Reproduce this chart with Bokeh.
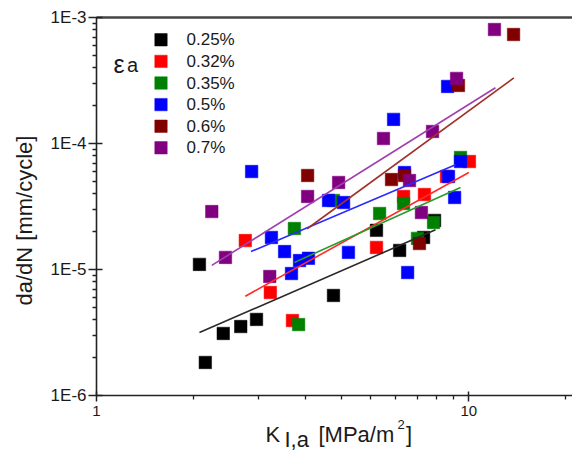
import math
from bokeh.plotting import figure
from bokeh.models import (Range1d, LogAxis, Label, BoxAnnotation,
                          CustomJSTickFormatter, FixedTicker)
from bokeh.embed import file_html
from bokeh.resources import INLINE

# ---------------- data ----------------
series_labels = ["0.25%", "0.32%", "0.35%", "0.5%", "0.6%", "0.7%"]
marker_colors = ["#000000", "#ff0000", "#008000", "#0000ff", "#800000", "#800080"]
line_colors = ["#2a2a2a", "#ff2a2a", "#2a9a2a", "#2a2aff", "#a0302a", "#a040b0"]

k_025 = [1.89, 1.96, 2.19, 2.44, 2.69, 4.33, 5.65, 6.52, 7.56, 8.09]
r_025 = [1.10e-5, 1.83e-6, 3.11e-6, 3.53e-6, 4.02e-6, 6.23e-6, 2.05e-5, 1.42e-5, 1.80e-5, 2.46e-5]

k_032 = [2.51, 2.93, 3.36, 5.65, 6.68, 7.60, 8.71, 10.04]
r_032 = [1.70e-5, 6.58e-6, 3.94e-6, 1.50e-5, 3.81e-5, 3.95e-5, 5.49e-5, 7.22e-5]

k_035 = [3.40, 3.49, 4.33, 5.76, 6.68, 7.28, 8.04, 9.50]
r_035 = [2.12e-5, 3.66e-6, 3.54e-5, 2.79e-5, 3.35e-5, 1.77e-5, 2.37e-5, 7.77e-5]

k_05 = [2.61, 2.95, 3.20, 3.51, 3.71, 3.34, 4.20, 4.61, 4.75, 6.85, 6.72, 8.82, 9.16, 6.28, 8.77, 9.50]
r_05 = [6.01e-5, 1.80e-5, 1.39e-5, 1.18e-5, 1.23e-5, 9.31e-6, 3.54e-5, 3.41e-5, 1.37e-5,
        9.48e-6, 5.90e-5, 5.49e-5, 3.74e-5, 1.56e-4, 2.85e-4, 7.22e-5]

k_06 = [3.69, 6.20, 6.72, 7.37, 9.38, 13.19]
r_06 = [5.59e-5, 5.19e-5, 5.59e-5, 1.61e-5, 2.90e-4, 7.37e-4]

k_07 = [2.04, 2.22, 2.92, 3.69, 4.47, 5.90, 6.93, 7.46, 7.99, 9.27, 11.72]
r_07 = [2.89e-5, 1.25e-5, 8.82e-6, 3.81e-5, 4.92e-5, 1.10e-4, 5.10e-5, 2.84e-5, 1.25e-4, 3.30e-4, 8.07e-4]

# fitted power-law lines: start / end points
fit_k_start = [1.89, 2.51, 3.40, 2.60, 3.68, 2.04]
fit_k_end = [8.14, 10.0, 9.50, 9.21, 13.21, 11.79]
fit_r_start = [3.16e-6, 6.15e-6, 1.14e-5, 1.39e-5, 2.11e-5, 1.08e-5]
fit_r_end = [2.07e-5, 5.90e-5, 4.49e-5, 6.80e-5, 3.33e-4, 2.78e-4]

x_major = [1, 10]
x_minor = [1.818, 2.727, 3.636, 4.545, 5.455, 6.364, 7.273, 8.182, 9.091, 18.18]
y_major = [1e-6, 1e-5, 1e-4, 1e-3]
y_minor = [m * 10.0 ** e for e in (-6, -5, -4) for m in range(2, 10)]

ks = [k_025, k_032, k_035, k_05, k_06, k_07]
rs = [r_025, r_032, r_035, r_05, r_06, r_07]

# axis extents (data) and the full canvas extents (so titles sit inside the frame)
X_AX = (1, 18.99)
Y_AX = (1e-6, 1e-3)
X_VIEW = (0.5522, 18.99)
Y_VIEW = (3.526e-7, 1.372e-3)

FONT = "Liberation Sans"
TXT = "#1a1a1a"
AXC = "#222222"

W, H = 572, 452

# ---------------- figure ----------------
p = figure(width=W, height=H, x_axis_type="log", y_axis_type="log",
           x_range=Range1d(*X_VIEW), y_range=Range1d(*Y_VIEW),
           output_backend="svg", toolbar_location=None,
           min_border_left=0, min_border_right=0, min_border_top=0, min_border_bottom=0)
p.outline_line_color = None
p.grid.visible = False
p.background_fill_color = "white"
p.border_fill_color = "white"

xa = p.xaxis[0]
xa.fixed_location = Y_AX[0]
xa.bounds = X_AX
xa.ticker = FixedTicker(ticks=x_major, minor_ticks=x_minor)
xa.formatter = CustomJSTickFormatter(code="return Math.round(tick).toString();")
xa.major_label_text_font = FONT
xa.major_label_text_font_size = "15px"
xa.major_label_text_color = TXT
xa.major_label_standoff = 4
xa.major_tick_in = 4
xa.major_tick_out = 6
xa.minor_tick_in = 0
xa.minor_tick_out = 4
xa.axis_line_width = 1.6
xa.axis_line_color = AXC
xa.major_tick_line_color = AXC
xa.minor_tick_line_color = AXC
xa.major_tick_line_width = 1.5
xa.minor_tick_line_width = 1.3

ya = p.yaxis[0]
ya.fixed_location = X_AX[0]
ya.bounds = Y_AX
ya.ticker = FixedTicker(ticks=y_major, minor_ticks=y_minor)
ya.formatter = CustomJSTickFormatter(code="return '1E' + Math.round(Math.log10(tick));")
ya.major_label_text_font = FONT
ya.major_label_text_font_size = "17px"
ya.major_label_text_color = TXT
ya.major_label_standoff = 2
ya.major_tick_in = 6
ya.major_tick_out = 8
ya.minor_tick_in = 0
ya.minor_tick_out = 4
ya.axis_line_width = 1.6
ya.axis_line_color = AXC
ya.major_tick_line_color = AXC
ya.minor_tick_line_color = AXC
ya.major_tick_line_width = 1.5
ya.minor_tick_line_width = 1.3

top = LogAxis(ticker=FixedTicker(ticks=[], minor_ticks=[]),
              formatter=CustomJSTickFormatter(code="return '';"),
              fixed_location=Y_AX[1], bounds=X_AX,
              major_tick_in=0, major_tick_out=0, minor_tick_in=0, minor_tick_out=0,
              major_label_standoff=0, major_label_text_font_size="0px",
              axis_line_width=2.6, axis_line_color="#444444")
p.add_layout(top, "above")

# ---------------- data marks ----------------
for k, r, c in zip(ks, rs, marker_colors):
    p.scatter(k, r, marker="square", size=12.5, fill_color=c, line_color=c, line_width=0.5)

for i in range(len(series_labels)):
    p.line([fit_k_start[i], fit_k_end[i]], [fit_r_start[i], fit_r_end[i]],
           line_color=line_colors[i], line_width=1.6)

# ---------------- text helpers (screen px from canvas bottom-left) ----------------
def add_label(text, x, y, size, angle=0.0, align="left", baseline="alphabetic"):
    p.add_layout(Label(x=x, y=y, x_units="screen", y_units="screen", text=text,
                       text_font=FONT, text_font_size=size, text_color=TXT,
                       angle=angle, text_align=align, text_baseline=baseline))

# ---------------- legend (manual) ----------------
LEG_X = 160.5
LEG_TOP = H - 39.3
LEG_STEP = 21.6
SQ = 6.2
for i, (lab, c) in enumerate(zip(series_labels, marker_colors)):
    yc = LEG_TOP - i * LEG_STEP
    p.add_layout(BoxAnnotation(left=LEG_X - SQ, right=LEG_X + SQ, bottom=yc - SQ, top=yc + SQ,
                               left_units="screen", right_units="screen",
                               bottom_units="screen", top_units="screen",
                               fill_color=c, fill_alpha=1.0, line_color=c, line_alpha=1.0,
                               line_width=0.5))
    add_label(lab, 186, yc, "17px", baseline="middle")

# epsilon_a legend title
add_label("\u03b5", 113, H - 63, "25px")
add_label("a", 126.5, H - 64.5, "20px")

# x axis title: K_{I,a} [MPa/m^2]
add_label("K", 265, H - 434, "22px")
add_label("I,a", 284, H - 439, "22px")
add_label("[MPa/m", 318, H - 434, "22px")
add_label("2", 397, H - 424, "13px")
add_label("]", 405.5, H - 434, "22px")

# y axis title
add_label("da/dN [mm/cycle]", 24.3, H - 220, "22px", angle=math.pi / 2,
          align="center", baseline="middle")

open("out.html", "w").write(file_html(p, INLINE))
